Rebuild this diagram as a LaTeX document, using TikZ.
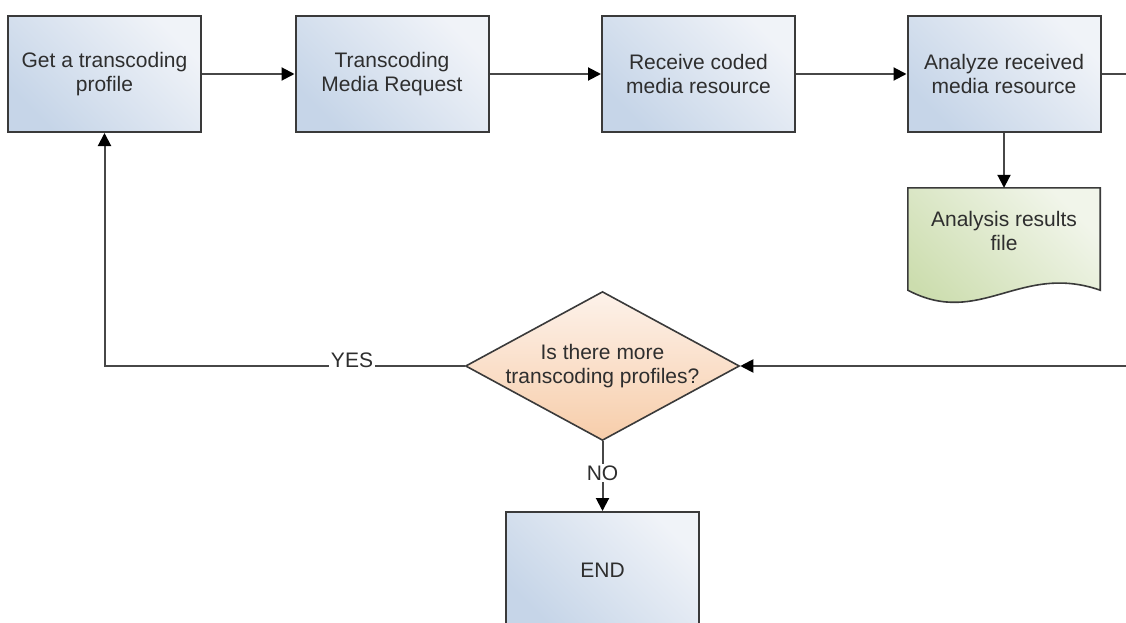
\documentclass[tikz,border=0pt]{standalone}
\usepackage{fontspec}
\setmainfont{Liberation Sans}
\usetikzlibrary{shapes.geometric,arrows.meta,calc}
\definecolor{txt}{HTML}{2E2E2E}
\definecolor{edge}{HTML}{3A3A3A}
\definecolor{lnk}{HTML}{474747}
\definecolor{bdark}{HTML}{C6D5E8}
\definecolor{blight}{HTML}{F0F3F8}
\definecolor{gdark}{HTML}{CCDDAE}
\definecolor{glight}{HTML}{F1F5EA}
\definecolor{odark}{HTML}{F7CDAA}
\definecolor{olight}{HTML}{FDF2EA}
\tikzset{
  procbox/.style={draw=edge, line width=2pt, rectangle, minimum width=193pt, minimum height=116pt,
    inner sep=0pt, align=center, text=txt, font=\fontsize{21}{24}\selectfont,
    top color=blight, bottom color=bdark, shading angle=-45},
  decbox/.style={draw=edge, line width=1.6pt, diamond, aspect=1.84, minimum width=265pt, minimum height=144pt,
    inner sep=0pt, align=center, text=txt, font=\fontsize{21}{24}\selectfont,
    top color=olight, bottom color=odark},
  doctext/.style={rectangle, minimum width=192pt, minimum height=86pt, inner sep=0pt, align=center,
    text=txt, font=\fontsize{21}{24}\selectfont},
  lbl/.style={fill=white, inner sep=2pt, text=txt, font=\fontsize{21}{24}\selectfont},
  link/.style={draw=lnk, line width=2pt, -{Triangle[length=13pt,width=13pt,color=black]}},
  plainlink/.style={draw=lnk, line width=2pt}
}
\begin{document}
\begin{tikzpicture}[x=1pt,y=-1pt]
\useasboundingbox (0,0) rectangle (1126,623);
\clip (0,0) rectangle (1126,623);
\fill[white] (0,0) rectangle (1126,623);

\node[procbox] (b1) at (104.5,74) {Get a transcoding\\profile};
\node[procbox] (b2) at (392,74) {Transcoding\\Media Request};
\node[procbox] (b3) at (698.5,74) {Receive coded\\media resource};
\node[procbox] (b4) at (1004,74) {Analyze received\\media resource};

% document shape
\node[doctext] (doc) at (1004,231) {};
\shade[draw=edge, line width=1.6pt, top color=glight, bottom color=gdark, shading angle=-45]
  (doc.north west) -- (doc.north east) -- ($(doc.south east)+(0,16)$)
  .. controls ($(doc.south east)+(-80,-12)$) and ($(doc.south west)+(72,54)$) .. ($(doc.south west)+(0,16)$) -- cycle;
\node[doctext] (doctxt) at (doc.center) {Analysis results\\file};

\node[decbox] (dia) at (602.5,366) {Is there more\\transcoding profiles?};
\node[procbox] (end) at (602.5,570) {END};

\coordinate (r1) at (1130,74);
\coordinate (r2) at (1130,366);

\draw[link] (b1.east) -- (b2.west);
\draw[link] (b2.east) -- (b3.west);
\draw[link] (b3.east) -- (b4.west);
\draw[plainlink] (b4.east) -- (r1);
\draw[link] (b4.south) -- (doc.north);
\draw[link] (r2) -- (dia.east);
\draw[link] (dia.west) -| (b1.south);
\draw[link] (dia.south) -- (end.north);

\node[lbl, anchor=base] (yes) at (352,367) {YES};
\node[lbl] (no) at (602.5,473) {NO};
\end{tikzpicture}
\end{document}
